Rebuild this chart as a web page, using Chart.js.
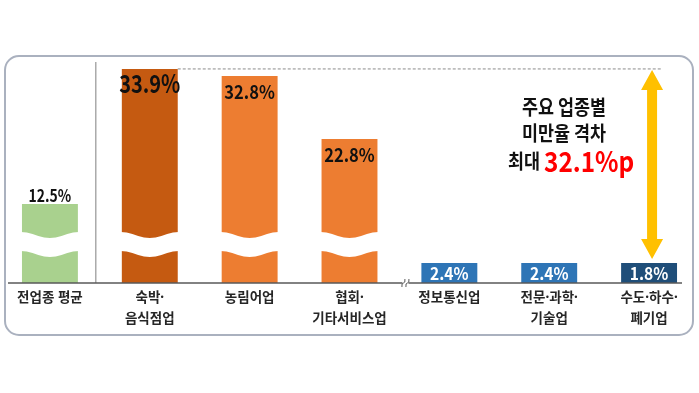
<!DOCTYPE html>
<html>
<head>
<meta charset="utf-8">
<style>
  html, body { margin: 0; padding: 0; background: #fff; }
  #wrap { width: 699px; height: 393px; }
</style>
</head>
<body>
<div id="wrap"><canvas id="chart"></canvas></div>
<script src="https://cdn.jsdelivr.net/npm/chart.js@4.4.0/dist/chart.umd.min.js"></script>
<script>
// data
var categories = [
  ["전업종 평균"],
  ["숙박·", "음식점업"],
  ["농림어업"],
  ["협회·", "기타서비스업"],
  ["정보통신업"],
  ["전문·과학·", "기술업"],
  ["수도·하수·", "폐기업"]
];
var rates = [12.5, 33.9, 32.8, 22.8, 2.4, 2.4, 1.8];
var barColors = ["#a9d18e", "#c55a11", "#ed7d31", "#ed7d31", "#2e75b6", "#2e75b6", "#1f4e79"];
var noteLines = ["주요 업종별", "미만율 격차"];
var notePrefix = "최대";

var KR = '"Noto Sans CJK KR", "Noto Sans", sans-serif';

function squeezeText(ctx, text, x, y, size, color, sx, align) {
  ctx.save();
  ctx.font = "bold " + size + "px " + KR;
  ctx.fillStyle = color;
  ctx.textBaseline = "middle";
  ctx.textAlign = align || "center";
  ctx.translate(x, y);
  ctx.scale(sx, 1);
  ctx.fillText(text, 0, 0);
  ctx.restore();
}

// frame, separator, baseline and axis break
var framePlugin = {
  id: "frame",
  beforeDraw: function (chart) {
    var ctx = chart.ctx, area = chart.chartArea;
    var meta = chart.getDatasetMeta(0).data;
    ctx.save();
    ctx.strokeStyle = "#aab1bf";
    ctx.lineWidth = 2;
    ctx.beginPath();
    ctx.roundRect(5, 56, 688, 279, 14);
    ctx.stroke();

    // separator after the average column
    var sepX = (meta[0].x + meta[1].x) / 2 - 4;
    ctx.strokeStyle = "#7f7f7f";
    ctx.lineWidth = 1;
    ctx.beginPath();
    ctx.moveTo(sepX, area.top);
    ctx.lineTo(sepX, area.bottom);
    ctx.stroke();
    ctx.restore();
  },
  afterDatasetsDraw: function (chart) {
    var ctx = chart.ctx, area = chart.chartArea;
    var meta = chart.getDatasetMeta(0).data;
    ctx.save();
    // wavy break through the tall bars
    meta.forEach(function (bar, i) {
      if (rates[i] < 10) return;
      var left = bar.x - bar.width / 2 - 1, w = bar.width + 2;
      var y0 = area.bottom - 48;
      ctx.fillStyle = "#ffffff";
      ctx.beginPath();
      for (var k = 0; k <= 20; k++) {
        var t = k / 20;
        var yy = y0 - 3 * Math.cos(2 * Math.PI * t);
        if (k === 0) ctx.moveTo(left + w * t, yy); else ctx.lineTo(left + w * t, yy);
      }
      for (var k2 = 20; k2 >= 0; k2--) {
        var t2 = k2 / 20;
        ctx.lineTo(left + w * t2, y0 + 19 - 3 * Math.cos(2 * Math.PI * t2));
      }
      ctx.closePath();
      ctx.fill();
    });

    // baseline
    ctx.strokeStyle = "#595959";
    ctx.lineWidth = 1.5;
    ctx.beginPath();
    ctx.moveTo(8, area.bottom);
    ctx.lineTo(682, area.bottom);
    ctx.stroke();

    // axis break mark between the two groups
    var bx = (meta[3].x + meta[4].x) / 2 + 6;
    ctx.fillStyle = "#ffffff";
    ctx.fillRect(bx - 3, area.bottom - 3, 6, 6);
    ctx.strokeStyle = "#595959";
    ctx.lineWidth = 1;
    [-2, 2].forEach(function (d) {
      ctx.beginPath();
      ctx.moveTo(bx + d - 1.5, area.bottom + 4);
      ctx.quadraticCurveTo(bx + d - 2, area.bottom, bx + d, area.bottom);
      ctx.quadraticCurveTo(bx + d + 2, area.bottom, bx + d + 1.5, area.bottom - 4);
      ctx.stroke();
    });
    ctx.restore();
  },
  afterDraw: function (chart) {
    var ctx = chart.ctx, area = chart.chartArea;
    var meta = chart.getDatasetMeta(0).data;

    // value labels
    meta.forEach(function (bar, i) {
      var txt = rates[i].toFixed(1) + "%";
      if (i === 0) {
        squeezeText(ctx, txt, bar.x, bar.y - 9, 17, "#111111", 0.82);
      } else if (rates[i] < 10) {
        squeezeText(ctx, txt, bar.x, (bar.y + bar.base) / 2 + 1, 17, "#ffffff", 0.92);
      } else if (rates[i] === Math.max.apply(null, rates)) {
        squeezeText(ctx, txt, bar.x, bar.y + 15, 25, "#111111", 0.8);
      } else {
        squeezeText(ctx, txt, bar.x, bar.y + 16, 19, "#111111", 0.87);
      }
    });

    // gap between highest and lowest industries
    var hi = rates.indexOf(Math.max.apply(null, rates.slice(1)));
    var lo = rates.indexOf(Math.min.apply(null, rates));
    var top = meta[hi], low = meta[lo];
    var ax = low.x + 3;

    ctx.save();
    ctx.strokeStyle = "#8c8c8c";
    ctx.lineWidth = 1;
    ctx.setLineDash([3, 2]);
    ctx.beginPath();
    ctx.moveTo(top.x + top.width / 2, top.y);
    ctx.lineTo(ax + 10, top.y);
    ctx.stroke();
    ctx.setLineDash([]);

    var y1 = top.y + 1, y2 = low.y - 4, hw = 11, sw = 5, hl = 20;
    ctx.fillStyle = "#ffc000";
    ctx.beginPath();
    ctx.moveTo(ax, y1);
    ctx.lineTo(ax + hw, y1 + hl);
    ctx.lineTo(ax + sw, y1 + hl);
    ctx.lineTo(ax + sw, y2 - hl);
    ctx.lineTo(ax + hw, y2 - hl);
    ctx.lineTo(ax, y2);
    ctx.lineTo(ax - hw, y2 - hl);
    ctx.lineTo(ax - sw, y2 - hl);
    ctx.lineTo(ax - sw, y1 + hl);
    ctx.lineTo(ax - hw, y1 + hl);
    ctx.closePath();
    ctx.fill();
    ctx.restore();

    var nx = ax - 88;
    squeezeText(ctx, noteLines[0], nx, 107, 20, "#111111", 0.87);
    squeezeText(ctx, noteLines[1], nx, 133, 20, "#111111", 0.87);
    var gap = (rates[hi] - rates[lo]).toFixed(1) + "%p";
    squeezeText(ctx, notePrefix, nx - 24, 161, 20, "#111111", 0.87, "right");
    squeezeText(ctx, gap, nx - 20, 161, 28, "#ff0000", 0.87, "left");
  }
};

new Chart(document.getElementById("chart"), {
  type: "bar",
  data: {
    labels: categories,
    datasets: [{
      data: rates,
      backgroundColor: barColors,
      barPercentage: 0.56,
      categoryPercentage: 1,
      minBarLength: 20
    }]
  },
  options: {
    responsive: true,
    maintainAspectRatio: false,
    animation: false,
    layout: { padding: { top: 62, left: 0, right: 0, bottom: 0 } },
    plugins: { legend: { display: false }, tooltip: { enabled: false } },
    scales: {
      x: {
        grid: { display: false, drawTicks: false },
        border: { display: false },
        afterFit: function (scale) { scale.height = 110; },
        ticks: {
          autoSkip: false,
          maxRotation: 0,
          padding: 4,
          color: "#262626",
          font: { family: '"Noto Sans", "Noto Sans CJK KR", sans-serif', size: 13.5, weight: "bold", lineHeight: 1.6 }
        }
      },
      y: { display: false, min: 0, max: 35 }
    }
  },
  plugins: [framePlugin]
});
</script>
</body>
</html>
